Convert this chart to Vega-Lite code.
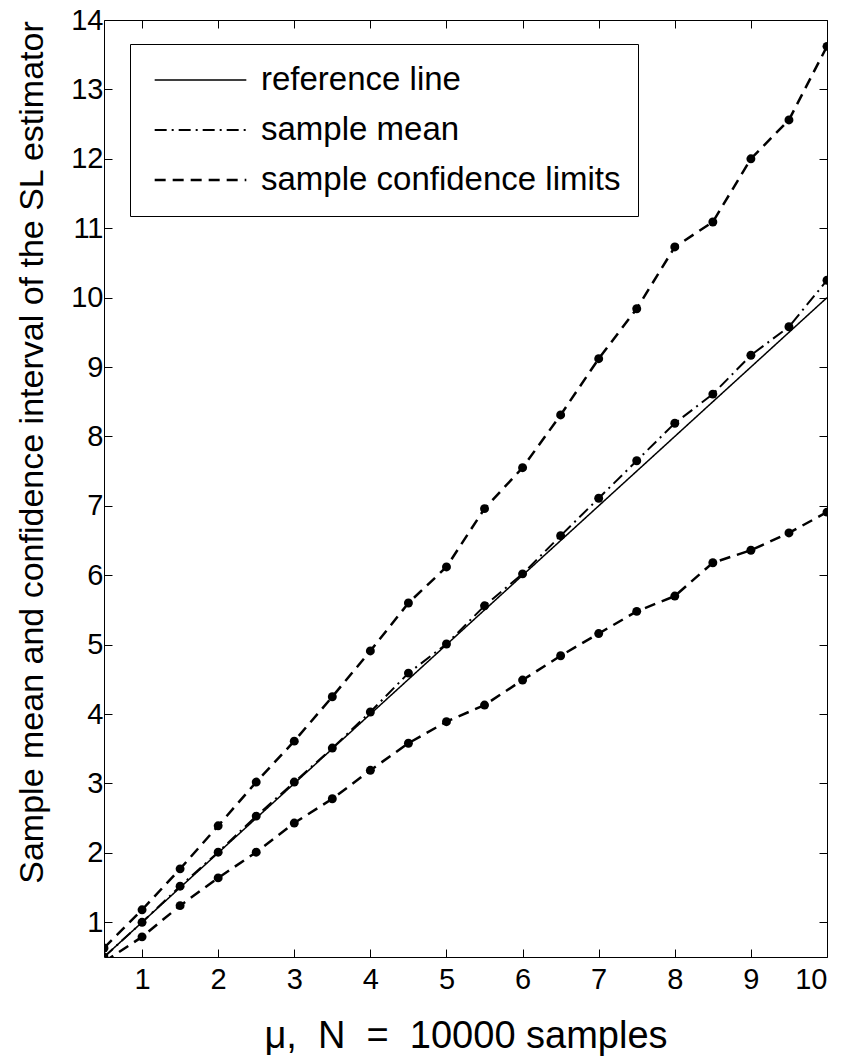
{
  "$schema": "https://vega.github.io/schema/vega-lite/v6.json",
  "width": 723,
  "height": 937,
  "autosize": {"type": "none"},
  "padding": {"left": 104, "top": 20, "right": 22, "bottom": 100},
  "background": "white",
  "config": {
    "view": {"stroke": "black", "strokeWidth": 1},
    "font": "Liberation Sans",
    "axis": {"grid": false, "domain": false, "tickColor": "black", "labelColor": "black", "titleColor": "black", "labelFont": "Liberation Sans", "titleFont": "Liberation Sans", "labelFontSize": 29, "tickSize": -8, "tickWidth": 1, "titleFontWeight": "normal"}
  },
  "datasets": {
    "d": [
      {"x": 0.5, "series": "reference line", "part": "ref", "y": 0.5},
      {"x": 1, "series": "reference line", "part": "ref", "y": 1},
      {"x": 1.5, "series": "reference line", "part": "ref", "y": 1.5},
      {"x": 2, "series": "reference line", "part": "ref", "y": 2},
      {"x": 2.5, "series": "reference line", "part": "ref", "y": 2.5},
      {"x": 3, "series": "reference line", "part": "ref", "y": 3},
      {"x": 3.5, "series": "reference line", "part": "ref", "y": 3.5},
      {"x": 4, "series": "reference line", "part": "ref", "y": 4},
      {"x": 4.5, "series": "reference line", "part": "ref", "y": 4.5},
      {"x": 5, "series": "reference line", "part": "ref", "y": 5},
      {"x": 5.5, "series": "reference line", "part": "ref", "y": 5.5},
      {"x": 6, "series": "reference line", "part": "ref", "y": 6},
      {"x": 6.5, "series": "reference line", "part": "ref", "y": 6.5},
      {"x": 7, "series": "reference line", "part": "ref", "y": 7},
      {"x": 7.5, "series": "reference line", "part": "ref", "y": 7.5},
      {"x": 8, "series": "reference line", "part": "ref", "y": 8},
      {"x": 8.5, "series": "reference line", "part": "ref", "y": 8.5},
      {"x": 9, "series": "reference line", "part": "ref", "y": 9},
      {"x": 9.5, "series": "reference line", "part": "ref", "y": 9.5},
      {"x": 10, "series": "reference line", "part": "ref", "y": 10},
      {"x": 0.5, "series": "sample mean", "part": "mean", "y": 0.5},
      {"x": 1, "series": "sample mean", "part": "mean", "y": 1.0},
      {"x": 1.5, "series": "sample mean", "part": "mean", "y": 1.52},
      {"x": 2, "series": "sample mean", "part": "mean", "y": 2.01},
      {"x": 2.5, "series": "sample mean", "part": "mean", "y": 2.53},
      {"x": 3, "series": "sample mean", "part": "mean", "y": 3.02},
      {"x": 3.5, "series": "sample mean", "part": "mean", "y": 3.51},
      {"x": 4, "series": "sample mean", "part": "mean", "y": 4.03},
      {"x": 4.5, "series": "sample mean", "part": "mean", "y": 4.59},
      {"x": 5, "series": "sample mean", "part": "mean", "y": 5.01},
      {"x": 5.5, "series": "sample mean", "part": "mean", "y": 5.56},
      {"x": 6, "series": "sample mean", "part": "mean", "y": 6.02},
      {"x": 6.5, "series": "sample mean", "part": "mean", "y": 6.57},
      {"x": 7, "series": "sample mean", "part": "mean", "y": 7.11},
      {"x": 7.5, "series": "sample mean", "part": "mean", "y": 7.65},
      {"x": 8, "series": "sample mean", "part": "mean", "y": 8.19},
      {"x": 8.5, "series": "sample mean", "part": "mean", "y": 8.61},
      {"x": 9, "series": "sample mean", "part": "mean", "y": 9.17},
      {"x": 9.5, "series": "sample mean", "part": "mean", "y": 9.58},
      {"x": 10, "series": "sample mean", "part": "mean", "y": 10.25},
      {"x": 0.5, "series": "sample confidence limits", "part": "upper", "y": 0.63},
      {"x": 1, "series": "sample confidence limits", "part": "upper", "y": 1.18},
      {"x": 1.5, "series": "sample confidence limits", "part": "upper", "y": 1.77},
      {"x": 2, "series": "sample confidence limits", "part": "upper", "y": 2.39},
      {"x": 2.5, "series": "sample confidence limits", "part": "upper", "y": 3.02},
      {"x": 3, "series": "sample confidence limits", "part": "upper", "y": 3.61},
      {"x": 3.5, "series": "sample confidence limits", "part": "upper", "y": 4.25},
      {"x": 4, "series": "sample confidence limits", "part": "upper", "y": 4.91},
      {"x": 4.5, "series": "sample confidence limits", "part": "upper", "y": 5.6},
      {"x": 5, "series": "sample confidence limits", "part": "upper", "y": 6.12},
      {"x": 5.5, "series": "sample confidence limits", "part": "upper", "y": 6.96},
      {"x": 6, "series": "sample confidence limits", "part": "upper", "y": 7.55},
      {"x": 6.5, "series": "sample confidence limits", "part": "upper", "y": 8.31},
      {"x": 7, "series": "sample confidence limits", "part": "upper", "y": 9.12},
      {"x": 7.5, "series": "sample confidence limits", "part": "upper", "y": 9.84},
      {"x": 8, "series": "sample confidence limits", "part": "upper", "y": 10.73},
      {"x": 8.5, "series": "sample confidence limits", "part": "upper", "y": 11.09},
      {"x": 9, "series": "sample confidence limits", "part": "upper", "y": 12.0},
      {"x": 9.5, "series": "sample confidence limits", "part": "upper", "y": 12.56},
      {"x": 10, "series": "sample confidence limits", "part": "upper", "y": 13.62},
      {"x": 0.5, "series": "sample confidence limits", "part": "lower", "y": 0.43},
      {"x": 1, "series": "sample confidence limits", "part": "lower", "y": 0.79},
      {"x": 1.5, "series": "sample confidence limits", "part": "lower", "y": 1.24},
      {"x": 2, "series": "sample confidence limits", "part": "lower", "y": 1.64},
      {"x": 2.5, "series": "sample confidence limits", "part": "lower", "y": 2.01},
      {"x": 3, "series": "sample confidence limits", "part": "lower", "y": 2.43},
      {"x": 3.5, "series": "sample confidence limits", "part": "lower", "y": 2.78},
      {"x": 4, "series": "sample confidence limits", "part": "lower", "y": 3.19},
      {"x": 4.5, "series": "sample confidence limits", "part": "lower", "y": 3.58},
      {"x": 5, "series": "sample confidence limits", "part": "lower", "y": 3.89},
      {"x": 5.5, "series": "sample confidence limits", "part": "lower", "y": 4.13},
      {"x": 6, "series": "sample confidence limits", "part": "lower", "y": 4.49},
      {"x": 6.5, "series": "sample confidence limits", "part": "lower", "y": 4.84},
      {"x": 7, "series": "sample confidence limits", "part": "lower", "y": 5.16},
      {"x": 7.5, "series": "sample confidence limits", "part": "lower", "y": 5.48},
      {"x": 8, "series": "sample confidence limits", "part": "lower", "y": 5.7},
      {"x": 8.5, "series": "sample confidence limits", "part": "lower", "y": 6.18},
      {"x": 9, "series": "sample confidence limits", "part": "lower", "y": 6.36},
      {"x": 9.5, "series": "sample confidence limits", "part": "lower", "y": 6.61},
      {"x": 10, "series": "sample confidence limits", "part": "lower", "y": 6.91}
    ]
  },
  "data": {"name": "d"},
  "resolve": {"axis": {"x": "independent", "y": "independent"}},
  "layer": [
    {
      "mark": {"type": "line", "clip": true, "color": "black"},
      "encoding": {
        "x": {"field": "x", "type": "quantitative", "scale": {"domain": [0.5, 10], "nice": false, "zero": false},
          "axis": {"orient": "bottom", "values": [1,2,3,4,5,6,7,8,9,10], "title": "μ,\u00a0\u00a0N\u00a0\u00a0=\u00a0\u00a010000 samples", "titleFontSize": 38, "titleX": 361.5, "titleY": 90, "titleBaseline": "alphabetic", "titleAlign": "center", "labelPadding": 16}},
        "y": {"field": "y", "type": "quantitative", "scale": {"domain": [0.5, 14], "nice": false, "zero": false},
          "axis": {"orient": "left", "values": [1,2,3,4,5,6,7,8,9,10,11,12,13,14], "title": "Sample mean and confidence interval of the SL estimator", "titleFontSize": 34, "titleX": -62, "titleY": 432, "titleAngle": -90, "titleBaseline": "alphabetic", "titleAlign": "center", "labelPadding": 9}},
        "detail": {"field": "part"},
        "strokeDash": {"field": "series", "type": "nominal",
          "scale": {"domain": ["reference line", "sample mean", "sample confidence limits"], "range": [[1, 0], [12, 5, 2, 5], [11, 7]]},
          "legend": {"title": null, "orient": "none", "legendX": 26, "legendY": 24, "padding": 17, "symbolOffset": 6, "strokeColor": "black", "fillColor": "white",
            "labelFontSize": 33, "labelFont": "Liberation Sans", "labelColor": "black", "labelLimit": 600, "symbolType": "stroke", "symbolSize": 8400,
            "symbolStrokeColor": "black", "symbolStrokeWidth": 1.5, "clipHeight": 38, "rowPadding": 12, "labelOffset": 13, "cornerRadius": 0}},
        "strokeWidth": {"field": "series", "type": "nominal",
          "scale": {"domain": ["reference line", "sample mean", "sample confidence limits"], "range": [1.5, 2.5, 3]}, "legend": null}
      }
    },
    {
      "transform": [{"filter": "datum.series !== 'reference line'"}],
      "mark": {"type": "point", "filled": true, "clip": true, "color": "black", "opacity": 1, "size": 80},
      "encoding": {
        "x": {"field": "x", "type": "quantitative", "axis": {"orient": "top", "values": [1,2,3,4,5,6,7,8,9,10], "labels": false, "title": null}},
        "y": {"field": "y", "type": "quantitative", "axis": {"orient": "right", "values": [1,2,3,4,5,6,7,8,9,10,11,12,13,14], "labels": false, "title": null}}
      }
    }
  ]
}
